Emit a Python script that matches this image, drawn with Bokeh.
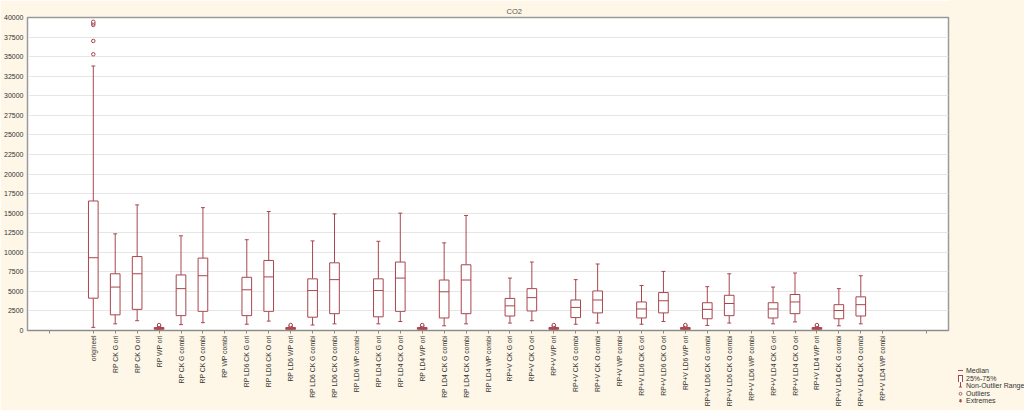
import math
from bokeh.plotting import figure
from bokeh.models import Range1d, FixedTicker, ColumnDataSource, Title, BasicTickFormatter, Div
from bokeh.layouts import row
from bokeh.embed import file_html
from bokeh.resources import INLINE

categories = [
    "origineel", "RP CK G ori", "RP CK O ori", "RP WP ori", "RP CK G combi", "RP CK O combi", "RP WP combi",
    "RP LD6 CK G ori", "RP LD6 CK O ori", "RP LD6 WP ori", "RP LD6 CK G combi", "RP LD6 CK O combi", "RP LD6 WP combi",
    "RP LD4 CK G ori", "RP LD4 CK O ori", "RP LD4 WP ori", "RP LD4 CK G combi", "RP LD4 CK O combi", "RP LD4 WP combi",
    "RP+V CK G ori", "RP+V CK O ori", "RP+V WP ori", "RP+V CK G combi", "RP+V CK O combi", "RP+V WP combi",
    "RP+V LD6 CK G ori", "RP+V LD6 CK O ori", "RP+V LD6 WP ori", "RP+V LD6 CK G combi", "RP+V LD6 CK O combi", "RP+V LD6 WP combi",
    "RP+V LD4 CK G ori", "RP+V LD4 CK O ori", "RP+V LD4 WP ori", "RP+V LD4 CK G combi", "RP+V LD4 CK O combi", "RP+V LD4 WP combi",
]
N = None
q1 = [4130, 2000, 2700, 150, 1900, 2450, N, 1900, 2450, 150, 1700, 2150, N, 1750, 2450, 150, 1600, 2150, N,
      1850, 2500, 150, 1650, 2250, N, 1600, 2250, 150, 1500, 1900, N, 1600, 2150, 150, 1500, 1850, N]
median = [9300, 5550, 7250, 250, 5350, 7000, N, 5200, 6850, 250, 5100, 6500, N, 5100, 6700, 250, 4950, 6450, N,
          3150, 4200, 250, 2950, 3900, N, 2750, 3800, 250, 2700, 3450, N, 2750, 3650, 250, 2550, 3300, N]
q3 = [16550, 7250, 9450, 380, 7100, 9250, N, 6800, 8950, 380, 6600, 8650, N, 6600, 8750, 380, 6450, 8400, N,
      4100, 5350, 380, 3900, 5050, N, 3650, 4850, 380, 3550, 4500, N, 3550, 4600, 380, 3300, 4300, N]
whisker_low = [400, 850, 1250, 60, 750, 1000, N, 800, 1200, 60, 700, 850, N, 850, 1150, 60, 600, 850, N,
               950, 1250, 60, 800, 950, N, 800, 1150, 60, 650, 950, N, 850, 1100, 60, 600, 850, N]
whisker_high = [33800, 12350, 16050, 500, 12100, 15700, N, 11600, 15200, 500, 11450, 14900, N, 11400, 15000, 500, 11200, 14700, N,
                6700, 8750, 500, 6500, 8500, N, 5750, 7550, 500, 5600, 7250, N, 5550, 7350, 500, 5350, 7000, N]
outliers = {
    "origineel": [35300, 37000, 39050, 39250, 39450],
    "RP WP ori": [600, 700], "RP LD6 WP ori": [600, 700], "RP LD4 WP ori": [600, 700],
    "RP+V WP ori": [600, 700], "RP+V LD6 WP ori": [600, 700], "RP+V LD4 WP ori": [600, 700],
}
y_ticks = list(range(0, 40001, 2500))
legend_labels = ["Median", "25%-75%", "Non-Outlier Range", "Outliers", "Extremes"]

RED = "#A8464E"
BG = "#FEF7E8"
FONT = "Liberation Sans"
BOX_HALF = 0.22
CAP_HALF = 0.09

xs, b1, bm, b3, wl, wh = [], [], [], [], [], []
for i, c in enumerate(categories):
    if q1[i] is None:
        continue
    xs.append(i + 1); b1.append(q1[i]); bm.append(median[i]); b3.append(q3[i])
    wl.append(whisker_low[i]); wh.append(whisker_high[i])
src = ColumnDataSource(dict(
    x=xs, q1=b1, med=bm, q3=b3, lo=wl, hi=wh,
    left=[x - BOX_HALF for x in xs], right=[x + BOX_HALF for x in xs],
    cl=[x - CAP_HALF for x in xs], cr=[x + CAP_HALF for x in xs],
))
ox, oy = [], []
for c, vals in outliers.items():
    for v in vals:
        ox.append(categories.index(c) + 1); oy.append(v)

p = figure(width=950, height=410, output_backend="svg", toolbar_location=None,
           x_range=Range1d(-2, 40), y_range=Range1d(0, 40000),
           min_border_left=27, min_border_right=2, min_border_top=17, min_border_bottom=80)
p.title = Title(text="CO2", align="left", offset=479, text_font=FONT, text_font_size="7.5px",
                text_font_style="normal", text_color="#555555", standoff=4)
p.background_fill_color = "white"
p.border_fill_color = BG
p.outline_line_color = "#9a9a9a"
p.outline_line_width = 1.5

p.segment("x", "q3", "x", "hi", source=src, line_color=RED, line_width=1)
p.segment("x", "lo", "x", "q1", source=src, line_color=RED, line_width=1)
p.segment("cl", "hi", "cr", "hi", source=src, line_color=RED, line_width=1)
p.segment("cl", "lo", "cr", "lo", source=src, line_color=RED, line_width=1)
p.quad(left="left", right="right", bottom="q1", top="q3", source=src,
       fill_color="white", line_color=RED, line_width=1)
p.segment("left", "med", "right", "med", source=src, line_color=RED, line_width=1)
p.scatter(ox, oy, marker="circle", size=3.5, line_color=RED, fill_color="white", line_width=1)

tick_pos = [-1] + list(range(1, len(categories) + 1)) + [39]
p.xaxis.ticker = FixedTicker(ticks=tick_pos)
overrides = {t: "" for t in tick_pos}
for i, c in enumerate(categories):
    overrides[i + 1] = c
p.xaxis.major_label_overrides = overrides
p.xaxis.axis_label = None
p.xaxis.major_label_orientation = math.pi / 2
p.xaxis.major_label_text_font = FONT
p.xaxis.major_label_text_font_size = "6.8px"
p.xaxis.major_label_text_color = "#333333"
p.xaxis.major_label_standoff = 2
p.xaxis.major_tick_out = 3
p.xaxis.major_tick_in = 0
p.xaxis.minor_tick_line_color = None
p.xaxis.axis_line_color = "#8a8a8a"
p.xaxis.major_tick_line_color = "#8a8a8a"

p.yaxis.ticker = FixedTicker(ticks=y_ticks)
p.yaxis.formatter = BasicTickFormatter(use_scientific=False)
p.yaxis.axis_label = None
p.yaxis.major_label_text_font = FONT
p.yaxis.major_label_text_font_size = "7px"
p.yaxis.major_label_text_color = "#333333"
p.yaxis.major_label_standoff = 4
p.yaxis.major_tick_out = 0
p.yaxis.major_tick_in = 0
p.yaxis.minor_tick_line_color = None
p.yaxis.axis_line_color = "#9a9a9a"

p.xgrid.grid_line_color = None
p.ygrid.grid_line_color = "#e6e6e6"
p.ygrid.ticker = FixedTicker(ticks=y_ticks)

# legend (outside the plot frame, bottom right)
icons = [
    '<line x1="1" y1="3.5" x2="6" y2="3.5" stroke="%s" stroke-width="1"/>' % RED,
    '<rect x="1.5" y="0.5" width="4" height="7" fill="white" stroke="%s" stroke-width="1"/>' % RED,
    '<line x1="3.5" y1="0" x2="3.5" y2="5" stroke="%s" stroke-width="1"/>'
    '<line x1="2" y1="5" x2="5" y2="5" stroke="%s" stroke-width="1"/>' % (RED, RED),
    '<circle cx="3.5" cy="3.75" r="1.4" fill="white" stroke="%s" stroke-width="0.9"/>' % RED,
    '<path d="M3.5 2 V5.5 M2 2.8 L5 4.7 M5 2.8 L2 4.7" stroke="%s" stroke-width="0.9"/>' % RED,
]
rows_html = "".join(
    '<div style="display:flex;align-items:center;height:7.5px;">'
    '<svg width="7" height="7.5" style="flex:none;margin-right:2px;">%s</svg><span>%s</span></div>' % (ic, lb)
    for ic, lb in zip(icons, legend_labels))
legend_html = (
    '<div style="position:relative;width:74px;height:410px;background:%s;">'
    '<div style="position:absolute;left:7px;top:367px;font-family:\'%s\';font-size:7px;'
    'line-height:7.5px;color:#333333;white-space:nowrap;">%s</div></div>' % (BG, FONT, rows_html))
leg = Div(text=legend_html, width=74, height=410, styles={"background": BG, "margin": "0", "padding": "0"})

layout = row(p, leg, spacing=0)
html = file_html(layout, INLINE)
html = html.replace("<body>", '<body style="background:%s;">' % BG, 1)
open("out.html", "w").write(html)
